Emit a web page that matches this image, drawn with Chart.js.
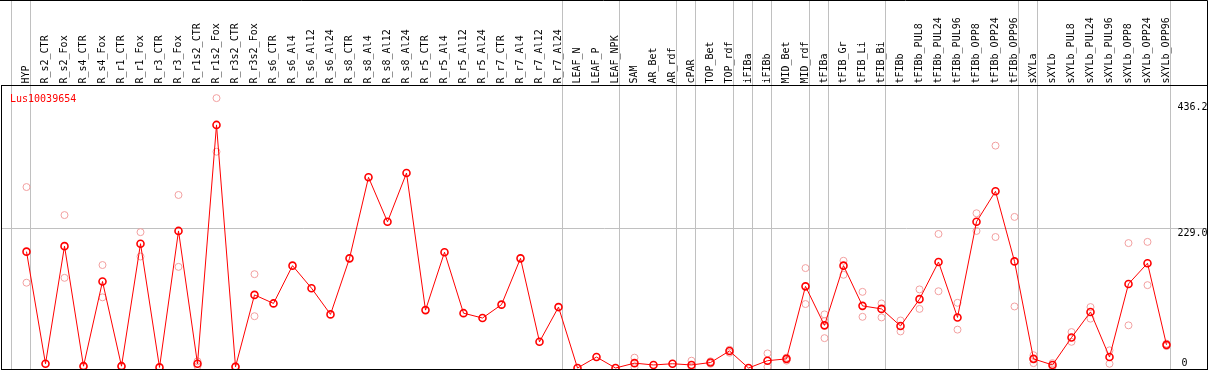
<!DOCTYPE html>
<html>
<head>
<meta charset="utf-8">
<title>Lus10039654</title>
<script src="https://cdn.jsdelivr.net/npm/chart.js"></script>
<style>
    body { margin: 0; background: #fff; }
    canvas { display: block; }
</style>
</head>
<body>
<canvas id="expr" width="1209" height="370"></canvas>
<script>
const geneName = 'Lus10039654';

const categories = [
    'HYP', 'R_s2_CTR', 'R_s2_Fox', 'R_s4_CTR', 'R_s4_Fox', 'R_r1_CTR', 'R_r1_Fox', 'R_r3_CTR', 'R_r3_Fox',
    'R_r1s2_CTR', 'R_r1s2_Fox', 'R_r3s2_CTR', 'R_r3s2_Fox',
    'R_s6_CTR', 'R_s6_Al4', 'R_s6_Al12', 'R_s6_Al24', 'R_s8_CTR', 'R_s8_Al4', 'R_s8_Al12', 'R_s8_Al24',
    'R_r5_CTR', 'R_r5_Al4', 'R_r5_Al12', 'R_r5_Al24', 'R_r7_CTR', 'R_r7_Al4', 'R_r7_Al12', 'R_r7_Al24',
    'LEAF_N', 'LEAF_P', 'LEAF_NPK', 'SAM', 'AR_Bet', 'AR_rdf', 'cPAR', 'TOP_Bet', 'TOP_rdf',
    'iFIBa', 'iFIBb', 'MID_Bet', 'MID_rdf', 'tFIBa', 'tFIB_Gr', 'tFIB_Li', 'tFIB_Bi',
    'tFIBb', 'tFIBb_PUL8', 'tFIBb_PUL24', 'tFIBb_PUL96', 'tFIBb_OPP8', 'tFIBb_OPP24', 'tFIBb_OPP96',
    'sXYLa', 'sXYLb', 'sXYLb_PUL8', 'sXYLb_PUL24', 'sXYLb_PUL96', 'sXYLb_OPP8', 'sXYLb_OPP24', 'sXYLb_OPP96'
];

// mean expression per sample
const means = [
    191, 7, 200, 3, 142, 3, 204, 1, 225,
    7, 399, 2, 120,
    106, 168, 131, 88, 180, 313, 240, 320,
    95, 190, 90, 82, 104, 180, 43, 100,
    0, 18, 0, 8, 5, 7, 5, 9, 28,
    0, 12, 15, 134, 70, 168, 102, 97,
    69, 113, 174, 83, 240, 290, 175,
    15, 5, 50, 92, 18, 138, 172, 38
];

// individual replicates (null = none shown)
const rep1 = [
    297, null, 251, 4, 169, 4, 223, null, 284,
    11, 443, 3, 154,
    null, null, null, null, null, null, null, null,
    null, null, null, null, null, null, null, null,
    null, null, null, 17, null, null, 12, 11, 30,
    null, 24, 17, 164, 88, 176, 125, 106,
    78, 129, 220, 107, 254, 365, 248,
    21, 8, 59, 100, 29, 205, 207, 40
];
const rep2 = [
    140, null, 148, 2, 116, 2, 183, null, 166,
    3, 355, 1, 85,
    null, null, null, null, null, null, null, null,
    null, null, null, null, null, null, null, null,
    null, null, null, 1, null, null, 2, 7, 25,
    null, 2, 12, 105, 49, 153, 84, 83,
    60, 97, 126, 63, 225, 215, 101,
    8, 2, 43, 81, 7, 70, 136, 36
];
const rep3 = categories.map((c, i) => i === 42 ? 77 : null);

// vertical separators sit just after these sample indices
const groupEnds = [-1, 0, 28, 31, 34, 35, 37, 38, 39, 41, 42, 45, 52, 53, 60];

const yTicks = [229, 436.2];
const yZero = [0];

const monoFont = { family: 'DejaVu Sans Mono', size: 10 };
const xMin = -25 / 19;
const xMax = xMin + 1206 / 19;

const toPoints = arr => arr.map((v, i) => ({ x: i, y: v }));

// no extra room for the y labels, they sit inside the plot
const flatY = s => { s.width = 0; s.paddingTop = 0; s.paddingBottom = 0; };

// outline round the plot area, plus top and right edge of the picture
const frame = {
    id: 'frame',
    afterDatasetsDraw(chart) {
        const a = chart.chartArea, ctx = chart.ctx;
        ctx.save();
        ctx.strokeStyle = '#000';
        ctx.lineWidth = 1;
        ctx.strokeRect(a.left, a.top, a.right - a.left, a.bottom - a.top);
        ctx.beginPath();
        ctx.moveTo(0, 0.5);
        ctx.lineTo(a.right, 0.5);
        ctx.lineTo(a.right, a.top);
        ctx.stroke();
        ctx.restore();
    }
};

// gene name in the top left corner
const geneLabel = {
    id: 'geneLabel',
    afterDraw(chart) {
        const a = chart.chartArea, ctx = chart.ctx;
        ctx.save();
        ctx.fillStyle = '#ff0000';
        ctx.font = '10px "DejaVu Sans Mono"';
        ctx.textBaseline = 'alphabetic';
        ctx.textAlign = 'left';
        ctx.fillText(geneName, a.left + 8.5, a.top + 16);
        ctx.restore();
    }
};

const repStyle = {
    type: 'line',
    showLine: false,
    pointRadius: 3.5,
    pointBorderWidth: 1,
    pointBorderColor: '#f2a0a0',
    pointBackgroundColor: 'rgba(0,0,0,0)',
    order: 2
};

new Chart(document.getElementById('expr'), {
    type: 'line',
    data: {
        datasets: [
            {
                label: geneName,
                data: toPoints(means),
                borderColor: '#ff0000',
                borderWidth: 1,
                pointRadius: 3.5,
                pointBorderWidth: 1.6,
                pointBorderColor: '#ff0000',
                pointBackgroundColor: 'rgba(0,0,0,0)',
                tension: 0,
                order: 1
            },
            Object.assign({ label: 'rep1', data: toPoints(rep1) }, repStyle),
            Object.assign({ label: 'rep2', data: toPoints(rep2) }, repStyle),
            Object.assign({ label: 'rep3', data: toPoints(rep3) }, repStyle)
        ]
    },
    options: {
        responsive: false,
        animation: false,
        layout: { autoPadding: false, padding: { left: 1.5, right: 1.5, top: 0, bottom: 0.5 } },
        plugins: {
            legend: { display: false },
            tooltip: { enabled: false }
        },
        scales: {
            x: {
                type: 'linear',
                position: 'top',
                weight: 2,
                min: xMin,
                max: xMax,
                grid: { display: false, drawTicks: false },
                border: { display: false },
                afterBuildTicks: s => { s.ticks = categories.map((c, i) => ({ value: i })); },
                afterFit: s => { s.height = 85.5; s.paddingLeft = 0; s.paddingRight = 0; },
                ticks: {
                    autoSkip: false,
                    minRotation: 90,
                    maxRotation: 90,
                    padding: 2,
                    labelOffset: 12,
                    color: '#000',
                    font: monoFont,
                    callback: v => categories[v]
                }
            },
            // group separators, their tick marks run up through the label band
            xg: {
                type: 'linear',
                position: 'top',
                weight: 0,
                min: xMin,
                max: xMax,
                border: { display: false },
                grid: { color: '#c0c0c0', tickColor: '#c0c0c0', lineWidth: 1, drawTicks: true, tickLength: 86 },
                afterBuildTicks: s => { s.ticks = groupEnds.map(i => ({ value: i + 4 / 19 })); },
                afterFit: s => { s.height = 0; s.paddingLeft = 0; s.paddingRight = 0; },
                ticks: { display: false }
            },
            y: {
                type: 'linear',
                position: 'right',
                min: -2.46,
                max: 463.7,
                border: { display: false },
                grid: {
                    drawTicks: false,
                    color: c => (c.tick && c.tick.value === 229) ? '#c0c0c0' : 'rgba(0,0,0,0)'
                },
                afterBuildTicks: s => { s.ticks = yTicks.map(v => ({ value: v })); },
                afterFit: flatY,
                ticks: {
                    mirror: true,
                    crossAlign: 'far',
                    padding: 0,
                    labelOffset: 5,
                    color: '#000',
                    font: monoFont,
                    callback: v => v.toFixed(1)
                }
            },
            y0: {
                type: 'linear',
                position: 'right',
                min: -2.46,
                max: 463.7,
                border: { display: false },
                grid: { display: false, drawTicks: false },
                afterBuildTicks: s => { s.ticks = yZero.map(v => ({ value: v })); },
                afterFit: flatY,
                ticks: {
                    mirror: true,
                    crossAlign: 'far',
                    padding: -20,
                    labelOffset: -5,
                    color: '#000',
                    font: monoFont,
                    callback: v => String(v)
                }
            }
        }
    },
    plugins: [frame, geneLabel]
});
</script>
</body>
</html>
